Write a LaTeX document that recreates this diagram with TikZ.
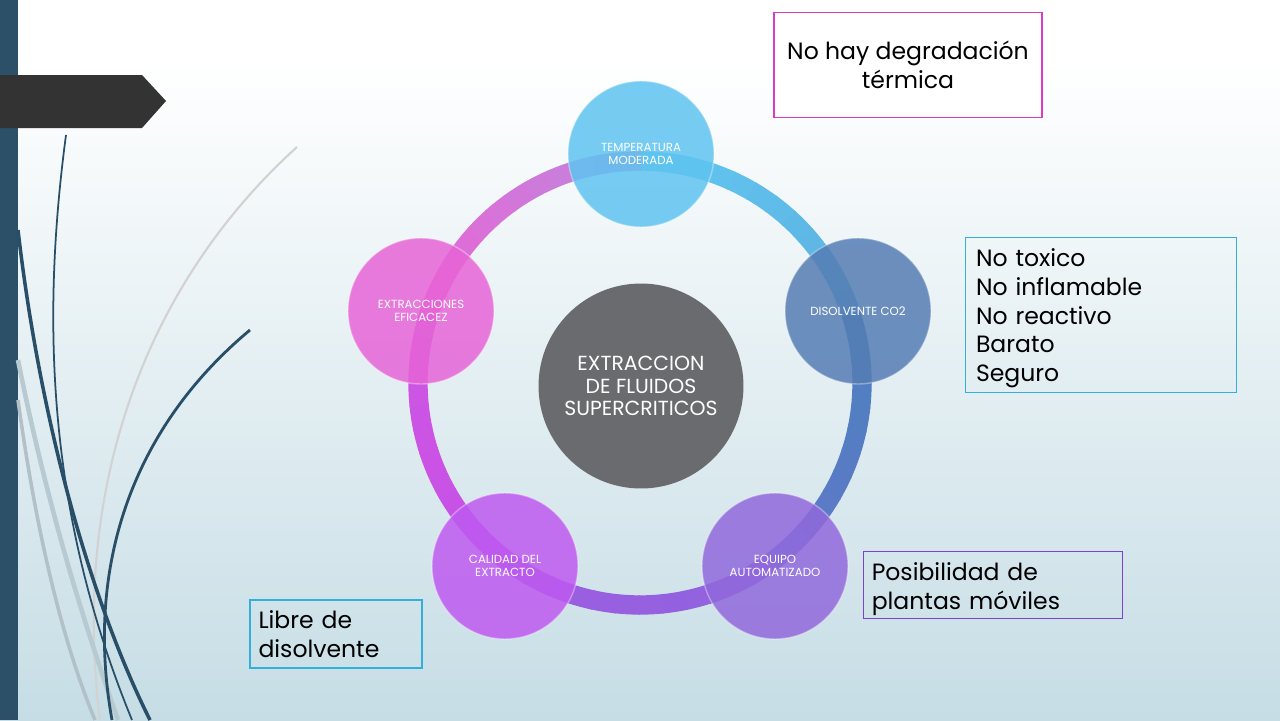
\documentclass[tikz,border=0pt]{standalone}
\usepackage{fontspec}
\setmainfont{Poppins}
\usetikzlibrary{positioning}

\definecolor{barblue}{RGB}{44,80,104}
\definecolor{bgblue}{RGB}{198,221,229}
\definecolor{swirl}{RGB}{40,78,104}
\definecolor{ctemp}{RGB}{95,195,240}
\definecolor{cdis}{RGB}{85,125,180}
\definecolor{cequ}{RGB}{145,105,220}
\definecolor{ccal}{RGB}{190,90,240}
\definecolor{cext}{RGB}{230,100,215}
\definecolor{ccen}{RGB}{105,107,110}
\definecolor{bmag}{RGB}{215,60,200}
\definecolor{bcyan}{RGB}{50,175,220}
\definecolor{bpur}{RGB}{125,65,210}
\definecolor{rtemp}{RGB}{100,200,242}
\definecolor{rdis}{RGB}{75,130,190}
\definecolor{requ}{RGB}{140,100,222}
\definecolor{rcal}{RGB}{195,80,232}
\definecolor{rext}{RGB}{236,100,212}

\begin{document}
\begin{tikzpicture}
  [x=0.02cm,y=-0.02cm,
   petal/.style={circle,minimum size=2.92cm,inner sep=0pt,text=white,
     fill opacity=.85,text opacity=1,draw=white,draw opacity=.35,line width=.8pt,
     align=center,font=\fontsize{6.7}{7.4}\selectfont},
   hub/.style={circle,minimum size=4.1cm,inner sep=0pt,fill=ccen,text=white,
     align=center,font=\fontsize{11.6}{12.8}\selectfont},
   notebox/.style={draw,line width=1pt,inner sep=0pt,
     font=\fontsize{13.4}{16.4}\selectfont},
   ringline/.style={line width=11pt}]

  % background
  \useasboundingbox (0,0) rectangle (1280,720);
  \shade[top color=white,bottom color=bgblue] (0,60) rectangle (1280,720);
  \fill[white] (0,0) rectangle (1280,60);
  \fill[barblue] (0,0) rectangle (18,720);

  % swirls
  \draw[gray!35,line width=1.2pt] (297,147) .. controls (150,280) and (70,480) .. (100,720);
  \draw[bgblue!80!gray,line width=2.6pt] (18,360) .. controls (50,520) and (90,640) .. (118,720);
  \draw[bgblue!70!gray,line width=2pt] (18,400) .. controls (40,560) and (70,660) .. (95,720);
  \draw[swirl,line width=1pt] (66,135) .. controls (40,330) and (50,520) .. (132,720);
  \draw[swirl,line width=2pt] (18,230) .. controls (40,420) and (90,600) .. (150,720);
  \draw[swirl,line width=1.6pt] (250,330) .. controls (130,430) and (85,570) .. (112,720);
  \fill[black!80] (0,75) -- (142,75) -- (166,101) -- (142,128) -- (0,128) -- cycle;

  % ring
  \coordinate (cen) at (640,383);
  \foreach \ca/\cb [count=\i from 0] in {rtemp/rdis,rdis/requ,requ/rcal,rcal/rext,rext/rtemp}
    \foreach \k in {0,...,11}{
      \pgfmathsetmacro\pa{100-(\k+0.5)*35/12}
      \pgfmathsetmacro\sa{-90+72*\i+6*\k}
      \draw[ringline,draw=\ca!\pa!\cb] (cen) ++(\sa:222) arc[start angle=\sa,end angle=\sa+6.4,radius=222];
    }

  \node[hub] (hub) at (641,386) {EXTRACCION\\DE FLUIDOS\\SUPERCRITICOS};

  \node[petal,fill=ctemp] (temp) at (641,154) {TEMPERATURA\\MODERADA};
  \node[petal,fill=cdis] (dis) at (858,311) {DISOLVENTE CO2};
  \node[petal,fill=cequ] (equ) at (775,566) {EQUIPO\\AUTOMATIZADO};
  \node[petal,fill=ccal] (cal) at (505,566) {CALIDAD DEL\\EXTRACTO};
  \node[petal,fill=cext] (ext) at (421,311) {EXTRACCIONES\\EFICACEZ};

  % notes
  \node[notebox,draw=bmag,fill=white,minimum width=5.36cm,minimum height=2.1cm,align=center]
    (termica) at (908,65) {No hay degradación\\térmica};
  \node[notebox,draw=bcyan,minimum width=5.42cm,minimum height=3.1cm,align=left,
    text width=5.0cm] (props) at (1101,315) {\rule{0pt}{14pt}No toxico\\No inflamable\\No reactivo\\Barato\\Seguro};
  \node[notebox,draw=bpur,minimum width=5.18cm,minimum height=1.34cm,align=left,
    text width=4.85cm] (moviles) at (993,585) {\rule{0pt}{14.5pt}Posibilidad de\\plantas móviles};
  \node[notebox,draw=bcyan,minimum width=3.44cm,minimum height=1.36cm,align=left,
    text width=3.1cm] (libre) at (336,634) {Libre de\\disolvente};
\end{tikzpicture}
\end{document}
